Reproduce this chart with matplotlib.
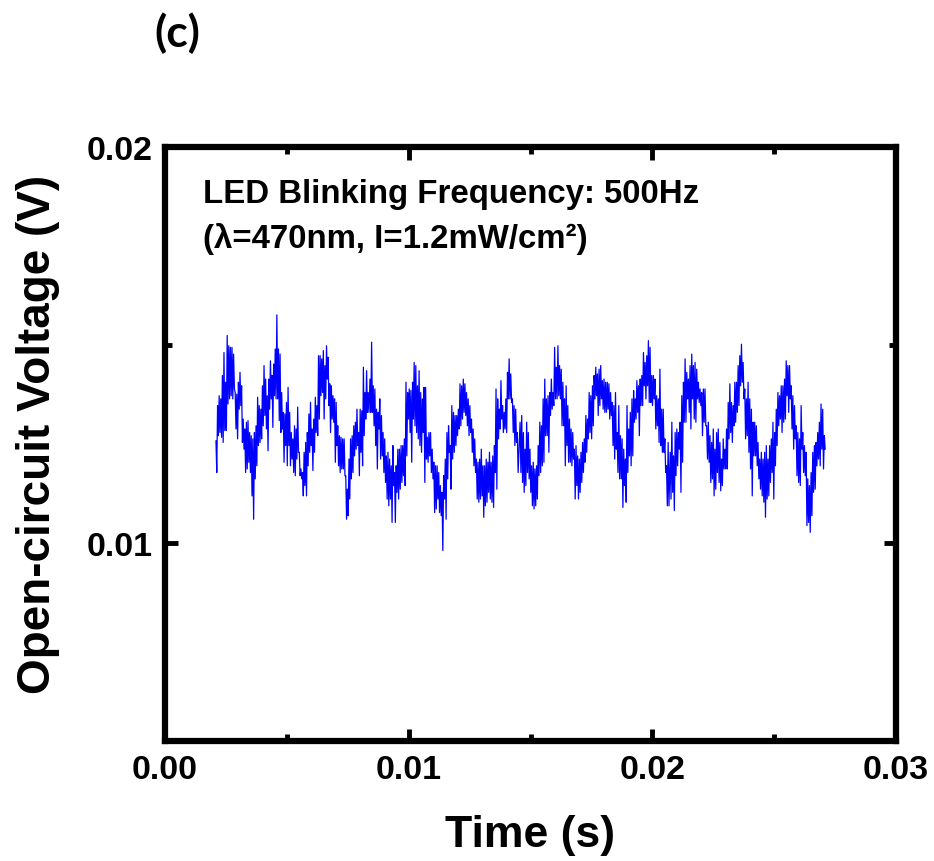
#!/usr/bin/env python3
"""Open-circuit voltage under 500 Hz LED blinking, panel (c)."""
import numpy as np
import matplotlib
matplotlib.use('Agg')
import matplotlib.pyplot as plt

# trace, in mV, as (high, low) pairs per ~1.6 px column
voc_mv_a = [12.58,11.78, 13.47,12.71, 13.72,12.79, 13.64,12.67, 14.23,12.54, 14.81,12.84, 14.06,12.84, 15.24,13.51,
    14.98,13.64, 14.94,13.72, 14.94,13.64, 14.77,13.89, 13.80,12.88, 13.76,12.63, 14.06,13.38, 14.31,13.47,
    13.97,12.54, 13.13,12.37, 12.88,11.78, 13.05,11.87, 13.09,12.04, 12.79,11.78, 12.71,11.19, 12.63,10.60,
    12.79,11.62, 12.96,11.95, 13.68,12.46, 13.47,12.54, 13.38,12.63, 13.97,12.96, 14.48,13.22, 14.14,12.88,
    13.72,12.33, 14.14,13.38, 14.60,13.64, 14.23,12.92, 14.52,13.72, 14.90,13.64, 15.76,13.64, 14.90,13.09,
    14.77,12.79, 13.80,12.88, 13.30,12.04, 13.26,12.46, 13.55,11.95, 13.93,12.46, 13.30,11.95, 12.79,12.12,
    12.63,11.78, 12.96,11.70, 12.88,12.12, 13.43,12.29, 12.29,11.70, 11.87,11.62, 11.78,11.19, 12.29,11.45,
    12.54,11.19, 12.79,11.95, 13.26,12.29, 13.55,12.46, 12.88,11.83, 13.13,12.29, 13.68,12.79, 13.47,12.71,
    14.73,13.13, 14.73,13.72, 14.65,13.80, 14.86,13.13, 14.48,13.64, 14.98,14.14, 14.69,13.47, 14.02,12.79,
    13.97,13.13, 13.72,13.05, 13.64,12.04, 13.55,12.46, 12.96,11.95, 12.71,11.78, 12.67,11.87, 12.63,11.87,
    12.63,11.70, 11.70,10.60, 11.36,10.69, 12.12,11.11, 12.63,11.62, 12.71,11.78, 12.96,12.20, 13.05,12.37,
    13.38,12.46, 12.79,11.70, 13.38,12.29, 13.34,11.95, 14.44,12.71, 13.80,13.13, 14.35,13.30, 13.80,13.30]
voc_mv_b = [14.14,13.30, 15.07,13.30, 13.97,12.96, 13.89,12.46, 13.38,11.87, 13.30,12.88, 13.64,12.12, 13.22,12.20,
    12.79,11.78, 12.63,11.53, 12.20,11.11, 12.29,10.94, 12.12,11.11, 11.95,10.52, 12.46,11.45, 11.78,10.52,
    11.95,11.28, 12.37,11.11, 12.37,11.36, 12.46,11.53, 12.46,11.70, 12.63,11.45, 14.06,12.20, 13.80,13.13,
    13.89,12.79, 13.85,12.04, 14.06,13.13, 14.56,12.96, 14.48,12.79, 13.97,12.63, 14.35,12.46, 13.80,12.29,
    13.64,12.79, 13.93,11.53, 13.93,12.12, 12.67,12.04, 12.79,12.20, 12.79,11.78, 12.37,11.62, 12.04,10.77,
    11.95,10.86, 11.95,11.11, 11.78,10.77, 11.45,10.69, 11.28,9.81, 11.70,11.11, 12.12,10.60, 12.79,11.62,
    12.96,12.29, 12.46,11.36, 13.47,12.12, 13.30,12.29, 13.22,12.46, 13.22,12.71, 13.38,12.88, 14.02,12.96,
    13.97,13.13, 14.14,13.30, 14.02,13.22, 13.80,12.96, 13.64,12.71, 13.47,12.79, 13.13,12.29, 12.88,11.95,
    12.63,11.78, 12.12,11.11, 12.04,11.03, 12.12,11.11, 12.37,11.19, 11.95,10.65, 11.95,10.94, 12.12,11.03,
    12.04,11.28, 12.29,11.11, 12.04,11.03, 12.20,10.90, 12.46,11.78, 13.89,11.36, 13.64,12.63, 13.38,12.88,
    14.10,13.13, 13.47,12.79, 13.30,12.88, 13.64,12.79, 14.31,13.64, 14.65,13.64, 14.27,13.55, 13.64,12.79,
    13.47,12.46, 13.38,12.54, 12.79,11.78]
voc_mv_c = [13.05,11.78, 13.22,11.53, 12.79,11.28, 12.37,11.45, 13.05,11.78, 12.79,11.62, 12.37,11.28, 11.95,10.94,
    12.04,10.86, 11.87,10.94, 11.95,11.11, 12.46,11.70, 13.05,11.78, 12.96,11.95, 13.64,12.04, 14.14,12.71,
    13.64,12.71, 13.72,12.29, 13.80,13.22, 14.14,13.38, 13.80,13.47, 14.94,13.64, 14.44,13.64, 14.98,13.72,
    14.48,13.64, 14.39,12.96, 14.06,12.96, 13.64,11.95, 13.97,12.46, 13.47,12.04, 13.13,12.04, 12.88,11.95,
    12.79,12.12, 12.37,11.11, 12.46,11.45, 12.20,11.11, 12.12,11.28, 12.29,11.53, 12.54,11.78, 12.63,12.04,
    13.22,12.29, 13.13,12.63, 13.80,12.79, 13.72,12.63, 13.97,12.96, 14.23,13.64, 14.44,13.72, 14.27,13.22,
    14.39,13.47, 14.48,13.64, 14.10,13.38, 14.14,13.30, 14.06,13.30, 14.06,13.38, 14.02,13.13, 13.80,13.22,
    13.55,12.46, 13.47,12.12, 13.80,12.37, 12.79,11.78, 13.47,11.62, 12.71,11.62, 12.63,10.90, 12.37,11.45,
    12.12,11.03, 13.47,11.78, 12.88,12.20, 13.30,11.95, 13.64,12.20, 13.85,13.05, 13.64,13.13, 14.10,13.30,
    13.97,12.71, 14.14,13.47, 14.23,13.47, 14.81,13.97, 14.56,13.64, 14.73,13.97, 15.11,13.55, 14.94,13.55,
    14.23,13.47, 14.23,13.64, 14.14,12.88, 13.72,12.96, 13.64,12.54, 14.39,12.46, 13.38,12.29, 13.38,12.29,
    12.63,11.78, 11.95,10.94, 12.54,10.94]
voc_mv_d = [12.29,11.11, 13.05,11.28, 12.20,10.82, 12.79,11.70, 12.88,11.95, 12.79,12.37, 13.05,11.28, 13.72,12.04,
    14.06,13.05, 14.65,13.05, 14.31,13.64, 14.14,13.30, 14.48,12.88, 14.77,13.64, 14.48,13.13, 14.56,13.05,
    14.39,13.64, 14.06,13.55, 13.89,13.47, 13.80,12.71, 13.89,13.05, 13.89,12.96, 12.96,12.12, 13.05,12.04,
    12.71,11.53, 12.54,11.62, 12.88,11.19, 12.37,11.36, 12.79,11.78, 12.88,11.53, 12.54,11.32, 12.12,11.45,
    12.63,11.87, 12.37,11.87, 12.88,11.87, 13.55,12.63, 14.02,12.79, 13.55,12.54, 13.47,12.96, 14.06,13.05,
    14.06,13.30, 14.48,13.47, 14.73,13.97, 15.02,14.06, 14.56,13.64, 13.89,12.63, 13.64,12.71, 14.06,12.29,
    13.64,11.87, 13.38,11.19, 13.05,12.20, 13.05,12.20, 12.96,11.95, 12.54,11.62, 12.12,11.36, 12.29,11.19,
    12.12,11.03, 12.29,10.65, 12.46,11.11, 12.12,11.19, 12.46,11.53, 12.63,11.78, 13.05,11.11, 12.79,11.95,
    13.38,12.46, 13.80,12.96, 13.72,13.13, 13.97,12.79, 13.97,13.05, 14.14,13.13, 14.60,13.72, 14.48,13.30,
    14.48,13.64, 13.97,12.88, 13.72,12.37, 13.47,12.63, 12.96,11.70, 12.79,11.53, 12.63,11.45, 13.47,12.37,
    12.79,11.78, 12.46,11.70, 12.29,10.44, 11.62,10.52, 11.45,10.27, 11.78,10.69, 12.29,11.28, 12.46,11.36,
    12.54,11.95, 12.79,12.12, 13.05,11.95, 13.51,12.37, 13.38,11.87, 12.71,12.37]
# time span covered by each piece of the trace (ms)
seg_start_ms = [2.09, 8.41, 14.57, 20.73]
seg_end_ms = [8.37, 14.49, 20.68, 27.09]

xticks = [0.00, 0.01, 0.02, 0.03]
xticklabels = ['0.00', '0.01', '0.02', '0.03']
yticks = [0.01, 0.02]
yticklabels = ['0.01', '0.02']

FONT = 'Liberation Sans'


def main():
    t, v = [], []
    for seg, t0, t1 in zip([voc_mv_a, voc_mv_b, voc_mv_c, voc_mv_d], seg_start_ms, seg_end_ms):
        t.append(np.linspace(t0, t1, len(seg)) * 1e-3)
        v.append(np.array(seg) * 1e-3)
    t = np.concatenate(t); v = np.concatenate(v)

    fig = plt.figure(figsize=(9.34, 8.62), dpi=100)
    ax = fig.add_axes([0.1767, 0.1392, 0.7827, 0.6891])
    ax.plot(t, v, color='#0000ff', lw=0.9)
    ax.set_xlim(0, 0.03); ax.set_ylim(0.005, 0.02)

    ax.set_xticks(xticks); ax.set_xticklabels(xticklabels)
    ax.set_yticks(yticks); ax.set_yticklabels(yticklabels)
    ax.set_xticks([0.005, 0.015, 0.025], minor=True)
    ax.set_yticks([0.005, 0.015], minor=True)
    ax.tick_params(which='both', direction='in', top=True, right=True, width=3.5)
    ax.tick_params(which='major', length=9, pad=9)
    ax.tick_params(which='minor', length=5)
    for lab in ax.get_xticklabels() + ax.get_yticklabels():
        lab.set_fontfamily(FONT); lab.set_fontweight('bold'); lab.set_fontsize(24.5)
    for s in ax.spines.values(): s.set_linewidth(4.5)

    ax.set_xlabel('Time (s)', fontfamily=FONT, fontweight='bold', fontsize=32, labelpad=21)
    ax.set_ylabel('Open-circuit Voltage (V)', fontfamily=FONT, fontweight='bold', fontsize=33, labelpad=19)
    ax.yaxis.label.set_y(0.517)

    ax.text(0.052, 0.907, 'LED Blinking Frequency: 500Hz', transform=ax.transAxes,
            fontfamily=FONT, fontweight='bold', fontsize=23.8, va='baseline')
    ax.text(0.052, 0.832, '(\u03bb=470nm, I=1.2mW/cm\u00b2)', transform=ax.transAxes,
            fontfamily=FONT, fontweight='bold', fontsize=23.8, va='baseline')

    fig.text(0.19, 0.962, '(c)', fontfamily='Lato', fontweight='bold', fontsize=32, ha='center', va='center')
    fig.savefig('out.png', dpi=100)


if __name__ == '__main__': main()
